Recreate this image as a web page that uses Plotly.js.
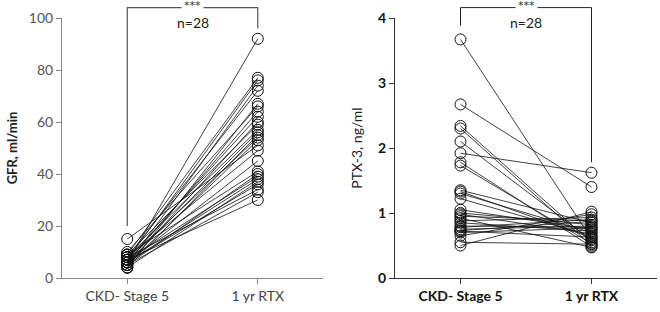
<!DOCTYPE html>
<html><head><meta charset="utf-8">
<script src="https://cdn.plot.ly/plotly-3.0.1.min.js"></script>
<style>html,body{margin:0;padding:0;background:#fff}</style>
</head><body><div id="chart" style="width:660px;height:312px"></div>
<script>
const groups = ["CKD- Stage 5", "1 yr RTX"];
const gfrCKD = [6, 9, 7, 5, 8, 4, 10, 6, 7, 5, 9, 8, 6, 4, 7, 5, 15, 8, 6, 9, 5, 7, 4, 6, 8, 5, 7, 6];
const gfrRTX = [92, 77, 76, 74, 72, 67, 66, 64, 62, 60, 59, 57, 56, 55, 54, 53, 51, 49, 45, 41, 40, 39, 37, 36, 34, 33, 30, 38];
const ptxCKD = [3.67, 2.67, 2.34, 2.30, 2.10, 1.92, 1.78, 1.73, 1.35, 1.33, 1.30, 1.22, 1.05, 1.00, 0.98, 0.95, 0.92, 0.88, 0.85, 0.80, 0.78, 0.75, 0.73, 0.72, 0.70, 0.65, 0.55, 0.50];
const ptxRTX = [0.60, 1.40, 0.55, 0.50, 0.58, 1.62, 0.48, 0.53, 0.85, 0.62, 0.70, 0.65, 0.75, 0.82, 0.68, 0.88, 0.47, 0.93, 0.72, 0.78, 0.90, 0.80, 0.87, 0.63, 0.77, 0.98, 0.52, 1.02];
const sigText = "***";
const nText = "n=28";

const FONT = "Lato, 'Open Sans', sans-serif";
const traces = [];
function addPairs(a, b, xa, ya, col) {
  for (let i = 0; i < a.length; i++) {
    traces.push({
      x: [0, 1], y: [a[i], b[i]], xaxis: xa, yaxis: ya, type: 'scatter',
      mode: 'lines+markers', showlegend: false, hoverinfo: 'none',
      line: {color: col, width: 0.8},
      marker: {symbol: 'circle-open', size: 11, color: '#111', line: {width: 1, color: '#111'}},
      cliponaxis: false
    });
  }
}
addPairs(gfrCKD, gfrRTX, 'x', 'y', '#111');
addPairs(ptxCKD, ptxRTX, 'x2', 'y2', '#111');

const dom1 = [0, 0.4387], dom2 = [0.5597, 1.0];
const yMax1 = 100, yMax2 = 4;
function px(dom, xv) { return dom[0] + (xv + 0.5) / 2 * (dom[1] - dom[0]); }
function py(v, max) { return v / max; }
const topY = 1.04;
const shapes = [
  {type: 'path', xref: 'paper', yref: 'paper',
   path: `M ${px(dom1,0)} ${py(20,yMax1)} L ${px(dom1,0)} ${topY} L ${px(dom1,1)} ${topY} L ${px(dom1,1)} ${py(96,yMax1)}`,
   line: {color: '#555', width: 1.2}},
  {type: 'path', xref: 'paper', yref: 'paper',
   path: `M ${px(dom2,0)} ${py(3.88,yMax2)} L ${px(dom2,0)} ${topY} L ${px(dom2,1)} ${topY} L ${px(dom2,1)} ${py(1.78,yMax2)}`,
   line: {color: '#222', width: 1}}
];
const annotations = [];
[dom1, dom2].forEach(d => {
  const cx = (px(d,0) + px(d,1)) / 2;
  annotations.push({xref: 'paper', yref: 'paper', x: cx, y: topY + 0.008, text: sigText, showarrow: false,
    font: {family: "'DejaVu Sans', sans-serif", size: 11, color: '#333'}, bgcolor: '#fff', borderpad: 2, yanchor: 'middle', xanchor: 'center'});
  annotations.push({xref: 'paper', yref: 'paper', x: cx, y: 1.022, text: nText, showarrow: false,
    font: {family: FONT, size: 14, color: '#222'}, yanchor: 'top', xanchor: 'center'});
});

const baseX = {range: [-0.5, 1.5], tickmode: 'array', tickvals: [0, 1], ticktext: groups,
  showgrid: false, zeroline: false, showline: true, ticks: 'outside', ticklen: 5, fixedrange: true};
const layout = {
  width: 660, height: 312,
  margin: {l: 62, r: 3, t: 18, b: 34},
  paper_bgcolor: '#fff', plot_bgcolor: '#fff',
  font: {family: FONT, size: 14, color: '#333'},
  xaxis: Object.assign({}, baseX, {domain: dom1, anchor: 'y', linecolor: '#888', tickcolor: '#888',
    tickfont: {family: FONT, size: 14, color: '#444'}}),
  yaxis: {domain: [0, 1], anchor: 'x', range: [0, yMax1], tickvals: [0, 20, 40, 60, 80, 100],
    showgrid: false, zeroline: false, showline: true, linecolor: '#888', tickcolor: '#888',
    ticks: 'outside', ticklen: 5, tickfont: {family: FONT, size: 14, color: '#555'},
    title: {text: '<b>GFR, ml/min</b>', font: {family: FONT, size: 13, color: '#222'}, standoff: 8}},
  xaxis2: Object.assign({}, baseX, {domain: dom2, anchor: 'y2', linecolor: '#333', tickcolor: '#333',
    tickfont: {family: FONT, size: 14, color: '#111', weight: 'bold'}}),
  yaxis2: {domain: [0, 1], anchor: 'x2', range: [0, yMax2], tickvals: [0, 1, 2, 3, 4],
    showgrid: false, zeroline: false, showline: true, linecolor: '#333', tickcolor: '#333',
    ticks: 'outside', ticklen: 5, tickfont: {family: FONT, size: 14, color: '#111', weight: 'bold'},
    title: {text: 'PTX-3, ng/ml', font: {family: FONT, size: 14, color: '#222'}, standoff: 12}},
  shapes: shapes, annotations: annotations
};
Plotly.newPlot('chart', traces, layout, {displayModeBar: false, staticPlot: true});
</script></body></html>
